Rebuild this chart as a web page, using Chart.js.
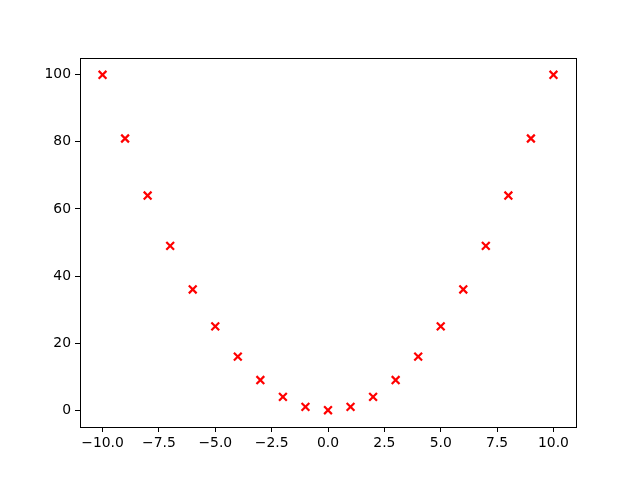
<!DOCTYPE html>
<html>
<head>
<meta charset="utf-8">
<script src="https://cdn.jsdelivr.net/npm/chart.js@4"></script>
<style>
  html, body { margin: 0; padding: 0; background: #fff; }
  #wrap { width: 640px; height: 480px; }
</style>
</head>
<body>
<div id="wrap"><canvas id="myChart" width="640" height="480"></canvas></div>
<script>
// values
var xs = [-10, -9, -8, -7, -6, -5, -4, -3, -2, -1, 0, 1, 2, 3, 4, 5, 6, 7, 8, 9, 10];
var ys = [100, 81, 64, 49, 36, 25, 16, 9, 4, 1, 0, 1, 4, 9, 16, 25, 36, 49, 64, 81, 100];
var xTicks = [-10, -7.5, -5, -2.5, 0, 2.5, 5, 7.5, 10];
var yTicks = [0, 20, 40, 60, 80, 100];

var puntos = xs.map(function (x, i) { return { x: x, y: ys[i] }; });

// caja completa alrededor del area del grafico
var marco = {
  id: 'marco',
  afterDraw: function (chart) {
    var a = chart.chartArea, c = chart.ctx;
    c.save();
    c.strokeStyle = '#000';
    c.lineWidth = 1;
    c.strokeRect(Math.round(a.left) + 0.5, Math.round(a.top) + 0.5,
                 Math.round(a.right - a.left), Math.round(a.bottom - a.top));
    c.restore();
  }
};

function fmtMenos(v, dec) {
  var s = Math.abs(v).toFixed(dec);
  return v < 0 ? '\u2212' + s : s;
}

var fuente = { family: 'DejaVu Sans', size: 13.9 };

var ctx = document.getElementById('myChart').getContext('2d');
var myChart = new Chart(ctx, {
  type: 'scatter',
  data: {
    datasets: [{
      data: puntos,
      pointStyle: 'crossRot',
      radius: 5.5,
      hoverRadius: 5.5,
      borderColor: '#ff0000',
      backgroundColor: '#ff0000',
      borderWidth: 2.2
    }]
  },
  plugins: [marco],
  options: {
    responsive: false,
    animation: false,
    layout: { padding: { top: 58, right: 64, left: 0, bottom: 0 } },
    plugins: { legend: { display: false }, tooltip: { enabled: false } },
    scales: {
      x: {
        type: 'linear',
        min: -11, max: 11,
        afterFit: function (s) { s.height = 53; },
        afterBuildTicks: function (s) { s.ticks = xTicks.map(function (v) { return { value: v }; }); },
        grid: { drawOnChartArea: false, drawTicks: true, tickLength: 5, color: '#000', tickWidth: 1 },
        border: { display: false },
        ticks: {
          color: '#000', font: fuente, padding: 3, maxRotation: 0,
          callback: function (v) { return fmtMenos(v, 1); }
        }
      },
      y: {
        type: 'linear',
        min: -5, max: 105,
        afterFit: function (s) { s.width = 80; },
        afterBuildTicks: function (s) { s.ticks = yTicks.map(function (v) { return { value: v }; }); },
        grid: { drawOnChartArea: false, drawTicks: true, tickLength: 5, color: '#000', tickWidth: 1 },
        border: { display: false },
        ticks: {
          color: '#000', font: fuente, padding: 4,
          callback: function (v) { return fmtMenos(v, 0); }
        }
      }
    }
  }
});
</script>
</body>
</html>
